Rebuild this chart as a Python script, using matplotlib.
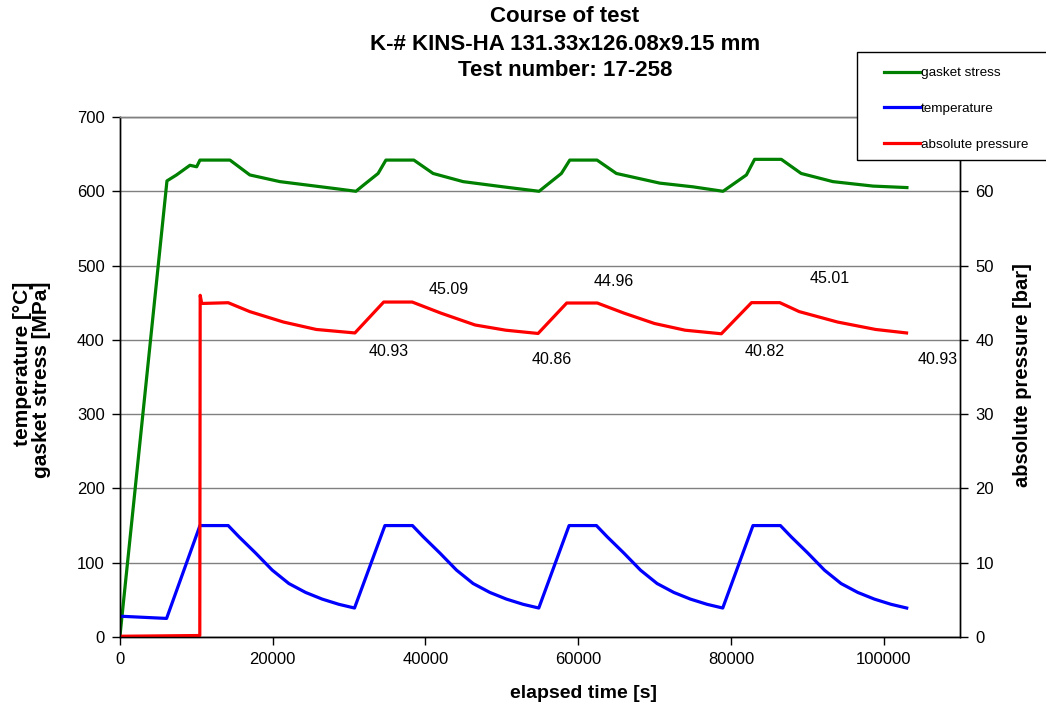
import matplotlib
matplotlib.use("Agg")
import matplotlib.pyplot as plt
from matplotlib.patches import Rectangle
from matplotlib.ticker import MultipleLocator, FormatStrFormatter, FuncFormatter

plt.rcParams['font.family'] = ['Liberation Sans', 'DejaVu Sans']

# gasket stress [MPa] over elapsed time [s]
stress_t = [0, 6150, 7400, 9160, 10040, 10470, 14400, 17000, 20940, 27900, 30900,
            31850, 33800, 34820, 38480, 41000, 44930, 50170, 54880, 55850, 57800,
            58900, 62470, 65000, 70680, 75040, 78970, 82030, 83100, 86600, 89200,
            93360, 98600, 103050]
stress = [2, 614, 622, 635, 633, 642, 642, 622, 613, 604, 600,
          608, 624, 642, 642, 624, 613, 606, 600, 608, 624,
          642, 642, 624, 611, 606, 600, 622, 643, 643, 624,
          613, 607, 605]

# temperature [°C]
temp_t = [0, 6100, 10470,
          14170, 15570, 17760, 19940, 22110, 24300, 26480, 28660, 30710,
          34690, 38300, 39700, 41890, 44070, 46240, 48430, 50610, 52790, 54840,
          58810, 62390, 63790, 65980, 68160, 70330, 72520, 74700, 76880, 78930,
          82890, 86480, 87880, 90070, 92250, 94420, 96610, 98790, 100970, 103020]
temp = [28, 25, 150,
        150, 135, 113, 90, 72, 60, 51, 44, 39,
        150, 150, 135, 113, 90, 72, 60, 51, 44, 39,
        150, 150, 135, 113, 90, 72, 60, 51, 44, 39,
        150, 150, 135, 113, 90, 72, 60, 51, 44, 39]

# absolute pressure [bar]
pres_t = [0, 10450, 10500, 10700, 14170, 17000, 21400, 25700, 30760,
          34530, 38270, 42020, 46500, 50520, 54750,
          58500, 62500, 66000, 70000, 74000, 78750,
          82700, 86400, 88950, 93960, 98950, 103000]
pres = [0.1, 0.2, 46.0, 44.9, 45.0, 43.8, 42.4, 41.4, 40.93,
        45.09, 45.09, 43.6, 42.0, 41.3, 40.86,
        44.96, 44.96, 43.6, 42.2, 41.3, 40.82,
        45.01, 45.01, 43.8, 42.4, 41.4, 40.93]

# pressure extremes written next to the curve
label_vals = [40.93, 45.09, 40.86, 44.96, 40.82, 45.01, 40.93]
label_x = [35210, 43060, 56540, 64660, 84420, 92930, 107070]
label_y = [38.4, 46.8, 37.4, 47.8, 38.4, 48.2, 37.4]

W, H = 1046, 709
fig = plt.figure(figsize=(W / 100, H / 100), dpi=100)
ax = fig.add_axes([120 / W, 1 - 637 / H, 840 / W, 520 / H])
ax2 = ax.twinx()

l1, = ax.plot(stress_t, stress, color='#008000', lw=2.3, label='gasket stress')
l2, = ax.plot(temp_t, temp, color='#0000ff', lw=2.3, label='temperature')
l3, = ax2.plot(pres_t, pres, color='#ff0000', lw=2.3, label='absolute pressure')

for v, x, y in zip(label_vals, label_x, label_y):
    ax2.text(x, y, f"{v:.2f}", ha='center', va='center', fontsize=11.5)

ax.set_xlim(0, 110000)
ax.set_ylim(0, 700)
ax2.set_ylim(0, 70)
ax.xaxis.set_major_locator(MultipleLocator(20000))
ax.xaxis.set_major_formatter(FormatStrFormatter('%d'))
ax.yaxis.set_major_locator(MultipleLocator(100))
ax2.yaxis.set_major_locator(MultipleLocator(10))
# the top pressure label sits under the legend box, leave it blank
ax2.yaxis.set_major_formatter(FuncFormatter(lambda v, p: '' if v > 65 else f"{v:.0f}"))

ax.grid(axis='y', color='#808080', lw=1)
ax.set_axisbelow(True)
for a in (ax, ax2):
    a.tick_params(direction='out', length=6, width=1, color='black',
                  labelsize=12, pad=5)
    for s in a.spines.values():
        s.set_color('black')
        s.set_linewidth(1)
ax.spines['top'].set_color('#808080')
ax2.spines['top'].set_color('#808080')

# axis titles
fig.text(584 / W, 1 - 693 / H, 'elapsed time [s]', ha='center', va='center',
         fontsize=14, fontweight='bold')
fig.text(32 / W, 1 - 380 / H, 'temperature [°C]\ngasket stress [MPa]',
         rotation=90, ha='center', va='center', multialignment='right',
         fontsize=15, fontweight='bold', linespacing=1.05)
fig.text(1022 / W, 1 - 375 / H, 'absolute pressure [bar]', rotation=90,
         ha='center', va='center', fontsize=14.5, fontweight='bold')

for txt, yp in [('Course of test', 17),
                ('K-# KINS-HA 131.33x126.08x9.15 mm', 44),
                ('Test number: 17-258', 71)]:
    fig.text(565 / W, 1 - yp / H, txt, ha='center', va='center',
             fontsize=16, fontweight='bold')

# legend box runs off the right edge of the figure
fig.add_artist(Rectangle((857 / W, 1 - 160 / H), 250 / W, 108 / H,
                         transform=fig.transFigure, facecolor='white',
                         edgecolor='black', lw=1, zorder=4))
leg = fig.legend(handles=[l1, l2, l3], loc='upper left',
                 bbox_to_anchor=(884 / W, 1 - 67 / H), borderaxespad=0,
                 borderpad=0, frameon=False, fontsize=9.7,
                 handlelength=2.67, handletextpad=0.05, labelspacing=1.72)
leg.set_zorder(5)

fig.savefig('out.png', dpi=100)
